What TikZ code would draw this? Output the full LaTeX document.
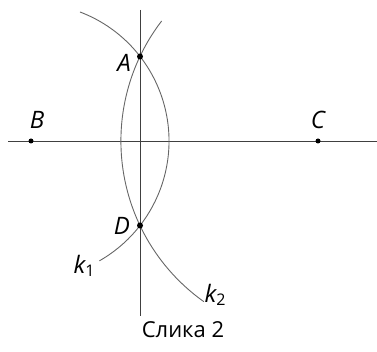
\documentclass[tikz,border=0pt]{standalone}
\usepackage{fontspec}
\setmainfont{Open Sans}
\begin{document}
\begin{tikzpicture}[x=1pt,y=1pt,
  axisline/.style={draw=black!75,line width=0.9pt},
  arcline/.style={draw=black!60,line width=0.9pt},
  pt/.style={circle,fill=black,inner sep=0pt,minimum size=6pt},
  lbl/.style={font=\fontsize{24}{26}\selectfont\itshape,inner sep=0pt}]
\useasboundingbox (0,0) rectangle (377,352);
\coordinate (B) at (31,211);
\coordinate (C) at (318,211);
\coordinate (A) at (140,295.5);
\coordinate (D) at (140,126.5);
\coordinate (Vt) at (140,342);
\coordinate (Vb) at (140,36);
\coordinate (Hl) at (8,211);
\coordinate (Hr) at (377,211);
\draw[axisline] (Hl) -- (Hr);
\draw[axisline] (Vt) -- (Vb);
% k1 centred at B
\draw[arcline] ([shift={(69.2:138)}]B) arc[start angle=69.2,end angle=-60.3,radius=138];
% k2 centred at C
\draw[arcline] ([shift={(142.5:197.1)}]C) arc[start angle=142.5,end angle=234.6,radius=197.1];
\node[pt] (pA) at (A) {};
\node[pt] (pD) at (D) {};
\node[pt,minimum size=5pt] (pB) at (B) {};
\node[pt,minimum size=5pt] (pC) at (C) {};
\node[lbl] (lA) at (124,289) {A};
\node[lbl] (lB) at (37,232) {B};
\node[lbl] (lC) at (318,232) {C};
\node[lbl] (lD) at (122,126) {D};
\node[lbl] (lk1) at (84,86) {k\raisebox{-3pt}{\upshape\fontsize{16}{17}\selectfont 1}};
\node[lbl] (lk2) at (215,57) {k\raisebox{-3pt}{\upshape\fontsize{16}{17}\selectfont 2}};
\node[font=\fontsize{22}{24}\selectfont,inner sep=0pt] (cap) at (183,22) {Слика 2};
\end{tikzpicture}
\end{document}
